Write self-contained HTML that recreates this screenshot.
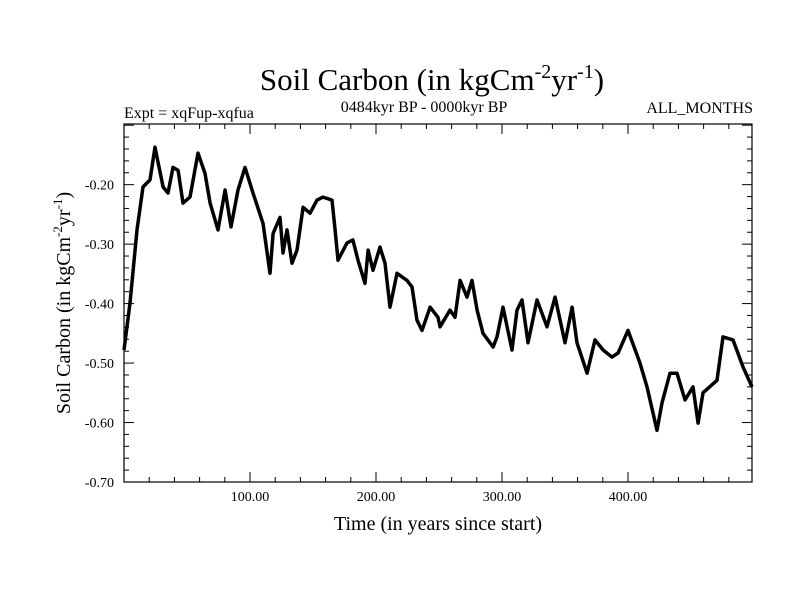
<!DOCTYPE html>
<html><head><meta charset="utf-8"><style>
body{margin:0;background:#fff;}
svg{display:block;font-family:"Liberation Serif",serif;}
</style></head><body>
<svg id="chart" width="800" height="600">
<text x="432" y="90" font-size="31" text-anchor="middle">Soil Carbon (in kgCm<tspan dy="-12" font-size="20">-2</tspan><tspan dy="12">yr</tspan><tspan dy="-12" font-size="20">-1</tspan><tspan dy="12">)</tspan></text>
<text x="124" y="118" font-size="16">Expt = xqFup-xqfua</text>
<text x="424" y="112" font-size="16" text-anchor="middle">0484kyr BP - 0000kyr BP</text>
<text x="753" y="113" font-size="16" text-anchor="end">ALL_MONTHS</text>
<g id="axes"></g>
<path id="series" fill="none" stroke="#000" stroke-width="3.5" stroke-linejoin="round"></path>
<rect x="124" y="124" width="628" height="358" fill="none" stroke="#000" stroke-width="1.2"></rect>
<text x="438" y="530" font-size="20" text-anchor="middle">Time (in years since start)</text>
<text transform="translate(70,303) rotate(-90)" font-size="20" text-anchor="middle">Soil Carbon (in kgCm<tspan dy="-8" font-size="13">-2</tspan><tspan dy="8">yr</tspan><tspan dy="-8" font-size="13">-1</tspan><tspan dy="8">)</tspan></text>
</svg>
<script>
const times=[0,4.8,10.3,15.1,20.6,24.6,31.0,34.9,38.9,42.9,46.8,52.4,58.7,64.3,68.3,74.6,80.2,84.9,90.5,96.0,102.4,110.3,115.9,118.3,123.8,126.2,129.4,133.3,137.3,142.1,147.6,153.2,157.9,165.1,167.5,169.8,177.0,181.7,185.7,191.3,193.7,197.6,203.2,207.1,211.1,216.7,224.6,228.6,232.5,236.5,242.9,249.2,250.8,258.7,262.7,266.7,272.2,276.2,280.2,284.9,292.9,296.0,300.8,307.9,311.9,315.9,320.6,327.8,335.7,342.1,350.0,355.6,359.5,367.5,373.8,380.2,387.3,392.1,400.0,409.5,415.1,423.0,427.0,433.3,438.9,445.2,451.6,455.6,459.5,470.6,475.4,483.3,491.3,498.4];
const values=[-0.478,-0.399,-0.276,-0.204,-0.192,-0.137,-0.204,-0.214,-0.171,-0.176,-0.231,-0.221,-0.147,-0.181,-0.231,-0.276,-0.209,-0.271,-0.209,-0.171,-0.214,-0.265,-0.349,-0.282,-0.255,-0.315,-0.276,-0.332,-0.310,-0.238,-0.248,-0.226,-0.221,-0.226,-0.276,-0.327,-0.298,-0.293,-0.327,-0.366,-0.310,-0.344,-0.305,-0.332,-0.406,-0.349,-0.361,-0.372,-0.428,-0.445,-0.406,-0.423,-0.439,-0.411,-0.423,-0.361,-0.389,-0.361,-0.411,-0.450,-0.473,-0.456,-0.406,-0.478,-0.411,-0.394,-0.466,-0.394,-0.439,-0.389,-0.466,-0.406,-0.466,-0.517,-0.461,-0.478,-0.490,-0.483,-0.445,-0.500,-0.540,-0.613,-0.567,-0.517,-0.517,-0.562,-0.540,-0.601,-0.550,-0.529,-0.456,-0.461,-0.507,-0.540];
const xTicks=[100,200,300,400];
const xTickLabels=["100.00","200.00","300.00","400.00"];
const yTicks=[-0.2,-0.3,-0.4,-0.5,-0.6,-0.7];
const yTickLabels=["-0.20","-0.30","-0.40","-0.50","-0.60","-0.70"];
const X0=124,X1=752,Y0=482,Y1=124;
const xMin=0,xMax=498.4,yMin=-0.70,yMax=-0.098;
const sx=v=>X0+(v-xMin)/(xMax-xMin)*(X1-X0);
const sy=v=>Y0-(v-yMin)/(yMax-yMin)*(Y0-Y1);
const NS="http://www.w3.org/2000/svg";
const ax=document.getElementById('axes');
function ln(x1,y1,x2,y2,name){const l=document.createElementNS(NS,'line');l.setAttribute('x1',x1);l.setAttribute('y1',y1);l.setAttribute('x2',x2);l.setAttribute('y2',y2);l.setAttribute('stroke','#000');l.setAttribute('stroke-width','1');


ax.appendChild(l);}
function tx(x,y,s,anchor,name){const t=document.createElementNS(NS,'text');t.setAttribute('x',x);t.setAttribute('y',y);t.setAttribute('font-size','14');t.setAttribute('text-anchor',anchor);t.textContent=s;


ax.appendChild(t);}
for(let v=20;v<xMax;v+=20){const x=sx(v);const major=v%100===0;const L=major?10:5;ln(x,Y0,x,Y0-L,'x-tick');ln(x,Y1,x,Y1+L,'x-tick-top');}
xTicks.forEach((v,i)=>tx(sx(v),501,xTickLabels[i],'middle','x-tick-label'));
for(let k=0;k<=30;k++){const v=-0.70+k*0.02;if(v>yMax)break;const y=sy(v);const major=k%5===0;const L=major?10:5;ln(X0,y,X0+L,y,'y-tick');ln(X1,y,X1-L,y,'y-tick-right');}
yTicks.forEach((v,i)=>tx(114,sy(v)+5,yTickLabels[i],'end','y-tick-label'));
document.getElementById('series').setAttribute('d',times.map((t,i)=>(i?'L':'M')+sx(t).toFixed(1)+','+sy(values[i]).toFixed(1)).join(''));
</script>
</body></html>
